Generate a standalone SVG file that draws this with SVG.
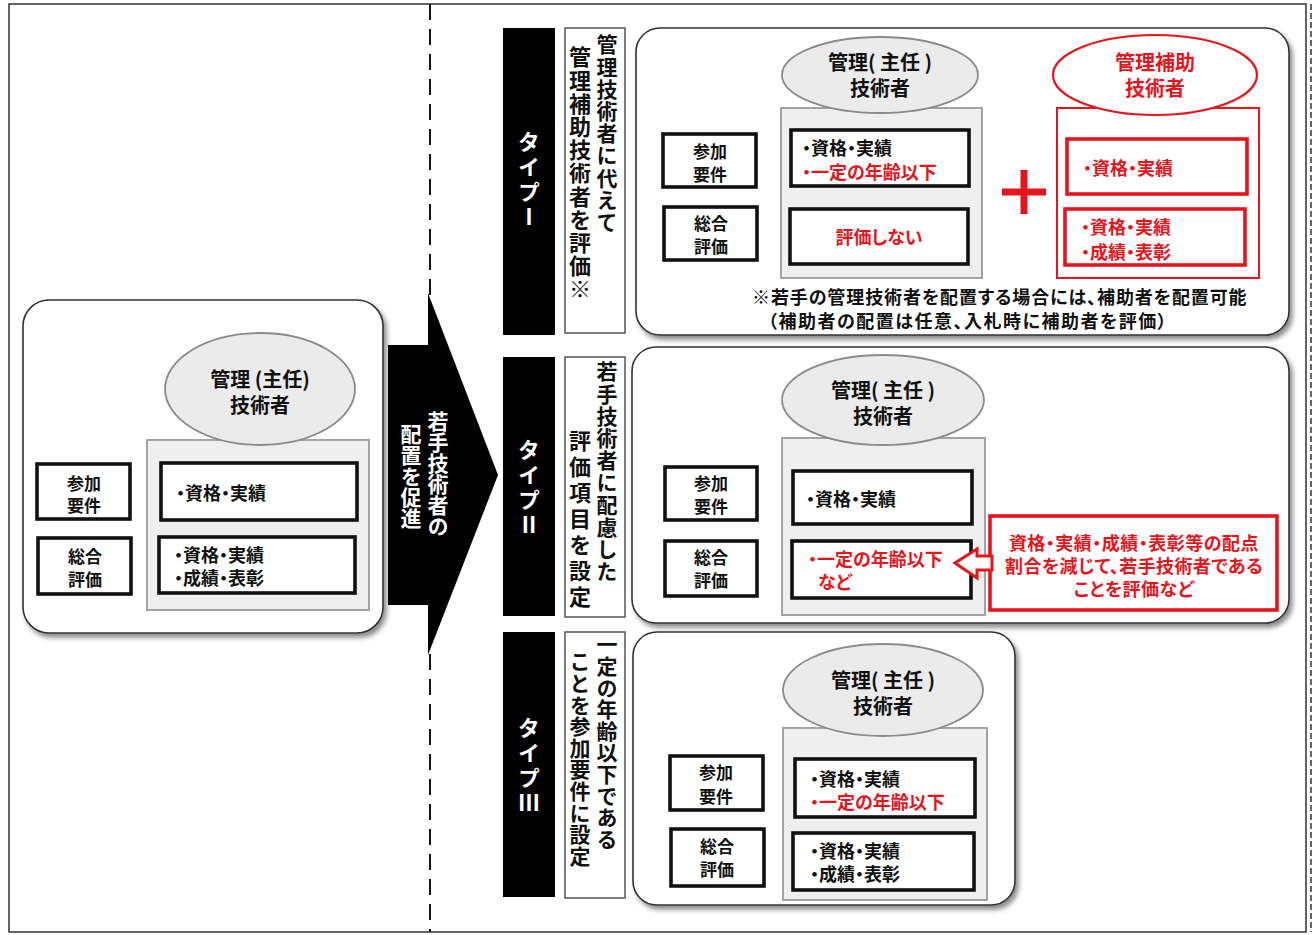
<svg xmlns="http://www.w3.org/2000/svg" width="1313" height="935" viewBox="0 0 1313 935">
<defs>
<style>
.t{font-family:"Noto Sans CJK JP","Noto Sans CJK SC",sans-serif;font-weight:bold;fill:#111;font-feature-settings:"palt";}
.r{fill:#e8141c;}
.k{fill:#111;}
.w{fill:#fff;}
.c{text-anchor:middle;}
.v{writing-mode:vertical-rl;font-feature-settings:normal;}
.panel{fill:#fff;stroke:#333;stroke-width:1.6;filter:url(#sh);}
.ell{fill:#ebebeb;stroke:#8a8a8a;stroke-width:1.8;}
.gbox{fill:#efefef;stroke:#a3a3a3;stroke-width:2;}
.bbox{fill:#fff;stroke:#111;stroke-width:3.6;}
.rbox{fill:#fff;stroke:#e8141c;stroke-width:3.6;}
.bar{fill:#000;}
.desc{fill:#fff;stroke:#555;stroke-width:1.5;}
.f20{font-size:20px;}
.f18{font-size:18px;}
.f17{font-size:17px;}
</style>
<filter id="sh" x="-5%" y="-5%" width="112%" height="115%">
<feDropShadow dx="3" dy="4" stdDeviation="2.5" flood-color="#000" flood-opacity="0.45"/>
</filter>
</defs>
<rect x="0" y="0" width="1313" height="935" fill="#fff"/>
<rect x="9" y="4" width="1297" height="928" fill="none" stroke="#333" stroke-width="1.5"/>
<line x1="1311" y1="4" x2="1311" y2="932" stroke="#333" stroke-width="1.5" stroke-dasharray="6,3"/>
<line x1="430" y1="4" x2="430" y2="932" stroke="#111" stroke-width="2" stroke-dasharray="16,9"/>

<!-- Left: current state -->
<g id="current">
<rect class="panel" x="23" y="300" width="360" height="333" rx="26"/>
<rect class="gbox" x="147" y="440" width="222" height="170"/>
<ellipse class="ell" cx="260" cy="389" rx="95" ry="56"/>
<text class="t f20 c" x="260" y="387">管理 (主任)<tspan x="260" dy="26">技術者</tspan></text>
<rect class="bbox" x="37" y="464" width="93" height="55"/>
<text class="t f17 c" x="84" y="490">参加<tspan x="84" dy="22">要件</tspan></text>
<rect class="bbox" x="38" y="538" width="93" height="56"/>
<text class="t f17 c" x="85" y="563">総合<tspan x="85" dy="23">評価</tspan></text>
<rect class="bbox" x="161" y="463" width="196" height="57"/>
<text class="t f18" x="176" y="500">・資格・実績</text>
<rect class="bbox" x="159" y="537" width="196" height="56"/>
<text class="t f18" x="174" y="562">・資格・実績<tspan x="174" dy="23">・成績・表彰</tspan></text>
</g>

<!-- Type I -->
<g id="type1-label">
<rect class="bar" x="503" y="28" width="52" height="307"/>
<text class="t w v" style="font-size:22px;letter-spacing:3px" x="529" y="131">タイプⅠ</text>
</g>
<g id="type1-desc">
<rect class="desc" x="565" y="28" width="60" height="305"/>
<text class="t v" style="font-size:21px;letter-spacing:1.2px" x="607" y="34">管理技術者に代えて</text>
<text class="t v" style="font-size:22px;letter-spacing:1.2px" x="580" y="46">管理補助技術者を評価※</text>
</g>
<g id="type1">
<rect class="panel" x="636" y="28" width="653" height="307" rx="24"/>
<rect class="gbox" x="781" y="108" width="201" height="170"/>
<ellipse class="ell" cx="880" cy="75" rx="98" ry="38"/>
<text class="t f20 c" x="880" y="70">管理( 主任 )<tspan x="880" dy="26">技術者</tspan></text>
<rect x="1057" y="108" width="202" height="170" fill="#fff" stroke="#e8141c" stroke-width="2"/>
<ellipse cx="1155" cy="75" rx="102" ry="40" fill="#fff" stroke="#e8141c" stroke-width="2.2"/>
<text class="t f20 c r" x="1155" y="70">管理補助<tspan x="1155" dy="26">技術者</tspan></text>
<rect class="bbox" x="663" y="134" width="93" height="53"/>
<text class="t f17 c" x="710" y="158">参加<tspan x="710" dy="23">要件</tspan></text>
<rect class="bbox" x="664" y="207" width="93" height="53"/>
<text class="t f17 c" x="711" y="230">総合<tspan x="711" dy="23">評価</tspan></text>
<rect class="bbox" x="791" y="130" width="178" height="56"/>
<text class="t f18" x="802" y="155">・資格・実績<tspan class="r" x="802" dy="24">・一定の年齢以下</tspan></text>
<rect class="bbox" x="790" y="209" width="178" height="55"/>
<text class="t f18 c r" x="879" y="244">評価しない</text>
<rect class="rbox" x="1067" y="139" width="180" height="55"/>
<text class="t f18 r" x="1083" y="175">・資格・実績</text>
<rect class="rbox" x="1065" y="209" width="180" height="56"/>
<text class="t f18 r" x="1081" y="234">・資格・実績<tspan x="1081" dy="25">・成績・表彰</tspan></text>
<path d="M1002,192 H1046 M1024,170 V214" stroke="#e8141c" stroke-width="7" fill="none"/>
<text class="t f18" x="752" y="304"><tspan style="letter-spacing:0.9px">※若手の管理技術者を配置する場合には、補助者を配置可能</tspan><tspan x="768" dy="24" style="letter-spacing:1.5px">（補助者の配置は任意、入札時に補助者を評価）</tspan></text>
</g>

<!-- Type II -->
<g id="type2-label">
<rect class="bar" x="503" y="357" width="52" height="259"/>
<text class="t w v" style="font-size:22px;letter-spacing:3px" x="529" y="439">タイプⅡ</text>
</g>
<g id="type2-desc">
<rect class="desc" x="565" y="357" width="60" height="260"/>
<text class="t v" style="font-size:21px;letter-spacing:1.2px" x="607" y="361">若手技術者に配慮した</text>
<text class="t v" style="font-size:22px;letter-spacing:4px" x="580" y="430">評価項目を設定</text>
</g>
<g id="type2">
<rect class="panel" x="632" y="347" width="657" height="276" rx="24"/>
<rect class="gbox" x="782" y="438" width="203" height="177"/>
<ellipse class="ell" cx="883" cy="400" rx="101" ry="45"/>
<text class="t f20 c" x="883" y="398">管理( 主任 )<tspan x="883" dy="26">技術者</tspan></text>
<rect class="bbox" x="665" y="467" width="92" height="53"/>
<text class="t f17 c" x="711" y="490">参加<tspan x="711" dy="23">要件</tspan></text>
<rect class="bbox" x="665" y="541" width="92" height="55"/>
<text class="t f17 c" x="711" y="564">総合<tspan x="711" dy="23">評価</tspan></text>
<rect class="bbox" x="793" y="471" width="179" height="53"/>
<text class="t f18" x="806" y="506">・資格・実績</text>
<rect class="bbox" x="792" y="541" width="179" height="57"/>
<text class="t f18 r" x="808" y="566">・一定の年齢以下<tspan x="818" dy="23">など</tspan></text>
<rect class="rbox" x="990" y="516" width="287" height="94"/>
<text class="t f18 c r" x="1134" y="550"><tspan style="letter-spacing:0.5px">資格・実績・成績・表彰等の配点</tspan><tspan x="1134" dy="23" style="letter-spacing:0.4px">割合を減じて、若手技術者である</tspan><tspan x="1134" dy="23" style="letter-spacing:0.5px">ことを評価など</tspan></text>
</g>

<!-- Type III -->
<g id="type3-label">
<rect class="bar" x="503" y="632" width="52" height="265"/>
<text class="t w v" style="font-size:22px;letter-spacing:3px" x="529" y="717">タイプⅢ</text>
</g>
<g id="type3-desc">
<rect class="desc" x="565" y="632" width="60" height="266"/>
<text class="t v" style="font-size:21px;letter-spacing:0.6px" x="607" y="634">一定の年齢以下である</text>
<text class="t v" style="font-size:21px;letter-spacing:0.6px" x="580" y="651">ことを参加要件に設定</text>
</g>
<g id="type3">
<rect class="panel" x="633" y="632" width="382" height="273" rx="24"/>
<rect class="gbox" x="783" y="728" width="204" height="172"/>
<ellipse class="ell" cx="883" cy="690" rx="100" ry="46"/>
<text class="t f20 c" x="883" y="688">管理( 主任 )<tspan x="883" dy="26">技術者</tspan></text>
<rect class="bbox" x="670" y="756" width="93" height="54"/>
<text class="t f17 c" x="716" y="779">参加<tspan x="716" dy="24">要件</tspan></text>
<rect class="bbox" x="671" y="829" width="93" height="57"/>
<text class="t f17 c" x="717" y="853">総合<tspan x="717" dy="23">評価</tspan></text>
<rect class="bbox" x="795" y="759" width="180" height="58"/>
<text class="t f18" x="810" y="786">・資格・実績<tspan class="r" x="810" dy="23">・一定の年齢以下</tspan></text>
<rect class="bbox" x="793" y="833" width="181" height="57"/>
<text class="t f18" x="810" y="858">・資格・実績<tspan x="810" dy="23">・成績・表彰</tspan></text>
</g>

<g id="connectors">
<polygon points="388,345 428,345 428,293 498,475 428,655 428,605 388,605" fill="#000"/>
<text class="t w v" style="font-size:21px" x="438" y="411">若手技術者の</text>
<text class="t w v" style="font-size:21px" x="411" y="424">配置を促進</text>
<polygon points="955,563 977,549 977,556 992,556 992,570 977,570 977,578" fill="#fff" stroke="#e8141c" stroke-width="3" stroke-linejoin="miter"/>
</g>
</svg>
